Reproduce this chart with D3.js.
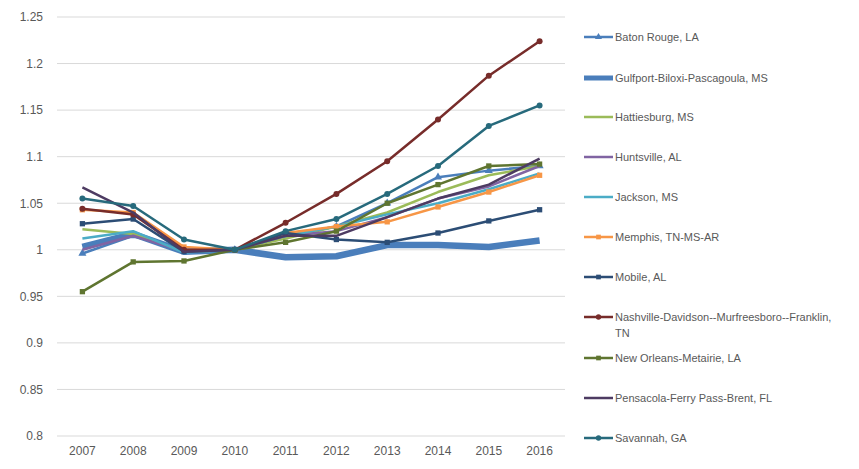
<!DOCTYPE html>
<html>
<head>
<meta charset="utf-8">
<script src="https://cdn.jsdelivr.net/npm/d3@7"></script>
<style>
  body { margin: 0; background: #fff; }
  text { font-family: "Liberation Sans", Arial, sans-serif; fill: #595959; }
</style>
</head>
<body>
<div id="chart"></div>
<script>
// data
var years = ["2007", "2008", "2009", "2010", "2011", "2012", "2013", "2014", "2015", "2016"];
var yTicks = [0.8, 0.85, 0.9, 0.95, 1, 1.05, 1.1, 1.15, 1.2, 1.25];

var names = [
  "Baton Rouge, LA",
  "Gulfport-Biloxi-Pascagoula, MS",
  "Hattiesburg, MS",
  "Huntsville, AL",
  "Jackson, MS",
  "Memphis, TN-MS-AR",
  "Mobile, AL",
  "Nashville-Davidson--Murfreesboro--Franklin, TN",
  "New Orleans-Metairie, LA",
  "Pensacola-Ferry Pass-Brent, FL",
  "Savannah, GA"
];

var batonRouge  = [0.996, 1.015, 0.998, 1, 1.015, 1.025, 1.050, 1.078, 1.085, 1.090];
var gulfport    = [1.003, 1.017, 0.998, 1, 0.992, 0.993, 1.005, 1.005, 1.003, 1.010];
var hattiesburg = [1.022, 1.017, 0.998, 1, 1.012, 1.025, 1.040, 1.062, 1.080, 1.090];
var huntsville  = [1.000, 1.015, 0.998, 1, 1.015, 1.020, 1.035, 1.055, 1.068, 1.090];
var jackson     = [1.012, 1.020, 0.997, 1, 1.015, 1.025, 1.038, 1.050, 1.065, 1.082];
var memphis     = [1.043, 1.040, 1.003, 1, 1.018, 1.025, 1.030, 1.046, 1.062, 1.080];
var mobile      = [1.028, 1.033, 0.998, 1, 1.018, 1.011, 1.008, 1.018, 1.031, 1.043];
var nashville   = [1.044, 1.038, 1.000, 1, 1.029, 1.060, 1.095, 1.140, 1.187, 1.224];
var newOrleans  = [0.955, 0.987, 0.988, 1, 1.008, 1.020, 1.050, 1.070, 1.090, 1.092];
var pensacola   = [1.067, 1.040, 0.998, 1, 1.015, 1.015, 1.035, 1.055, 1.070, 1.098];
var savannah    = [1.055, 1.047, 1.011, 1, 1.020, 1.033, 1.060, 1.090, 1.133, 1.155];

var seriesValues = [batonRouge, gulfport, hattiesburg, huntsville, jackson, memphis,
                    mobile, nashville, newOrleans, pensacola, savannah];

var colors = ["#4a7ebb", "#4a7ebb", "#9bbb59", "#8064a2", "#4bacc6", "#f79646",
              "#2c4d75", "#772c2a", "#5f7530", "#4d3b62", "#276a7c"];
var widths = [2.5, 6.5, 2.5, 2.5, 2.5, 2.5, 2.5, 2.5, 2.5, 2.5, 2.5];
var markers = ["triangle", null, null, null, null, "square", "square", "circle", "square", null, "circle"];

var series = names.map(function(n, i) {
  return {name: n, values: seriesValues[i], color: colors[i], width: widths[i], marker: markers[i]};
});

var W = 859, H = 469;
var margin = {top: 17, left: 57, right: 294, bottom: 33};
var width = W - margin.left - margin.right,
    height = H - margin.top - margin.bottom;

var svg = d3.select("#chart").append("svg")
    .attr("width", W).attr("height", H);
var g = svg.append("g")
    .attr("transform", "translate(" + margin.left + "," + margin.top + ")");

var x = d3.scaleBand().domain(years).range([0, width]);
var y = d3.scaleLinear().domain([0.8, 1.25]).range([height, 0]);

// gridlines
g.append("g").selectAll("line")
  .data(yTicks).enter().append("line")
    .attr("x1", 0).attr("x2", width)
    .attr("y1", function(d) { return y(d); })
    .attr("y2", function(d) { return y(d); })
    .attr("stroke", "#d9d9d9").attr("stroke-width", 1);

// y axis labels
var yAxis = g.append("g")
    .call(d3.axisLeft(y).tickValues(yTicks).tickSize(0).tickPadding(14)
      .tickFormat(function(d) { return String(+d.toFixed(2)); }));
yAxis.select(".domain").remove();
yAxis.selectAll("text").attr("font-size", 12).style("fill", "#595959")
    .style("font-family", "Liberation Sans, Arial, sans-serif");

// x axis labels
var xAxis = g.append("g")
    .attr("transform", "translate(0," + height + ")")
    .call(d3.axisBottom(x).tickSize(0).tickPadding(10));
xAxis.select(".domain").remove();
xAxis.selectAll("text").attr("font-size", 12).style("fill", "#595959")
    .style("font-family", "Liberation Sans, Arial, sans-serif");

var line = d3.line()
    .x(function(d, i) { return x(years[i]) + x.bandwidth() / 2; })
    .y(function(d) { return y(d); });

function markerPath(type, size) {
  var sym = type === "triangle" ? d3.symbolTriangle : type === "square" ? d3.symbolSquare : d3.symbolCircle;
  return d3.symbol().type(sym).size(size)();
}

// lines and markers
series.forEach(function(s) {
  g.append("path")
    .datum(s.values)
    .attr("fill", "none")
    .attr("stroke", s.color)
    .attr("stroke-width", s.width)
    .attr("stroke-linejoin", "round")
    .attr("d", line);
  if (s.marker) {
    g.append("g").selectAll("path")
      .data(s.values).enter().append("path")
        .attr("d", markerPath(s.marker, 28))
        .attr("transform", function(d, i) {
          return "translate(" + (x(years[i]) + x.bandwidth() / 2) + "," + y(d) + ")";
        })
        .attr("fill", s.color);
  }
});

// legend
var legendY = [37, 78, 117, 157, 197, 237, 277, 317, 358, 398, 438];
var legend = svg.append("g");
series.forEach(function(s, i) {
  var ly = legendY[i];
  legend.append("line")
    .attr("x1", 584).attr("x2", 613)
    .attr("y1", ly).attr("y2", ly)
    .attr("stroke", s.color)
    .attr("stroke-width", s.width > 5 ? 5 : 2.5);
  if (s.marker) {
    legend.append("path")
      .attr("d", markerPath(s.marker, 22))
      .attr("transform", "translate(598.5," + ly + ")")
      .attr("fill", s.color);
  }
  var t = legend.append("text")
    .attr("x", 615).attr("y", ly + 4)
    .attr("font-size", 11);
  if (s.name.indexOf("Nashville") === 0) {
    t.append("tspan").text("Nashville-Davidson--Murfreesboro--Franklin,");
    t.append("tspan").attr("x", 615).attr("dy", 16).text("TN");
  } else {
    t.text(s.name);
  }
});
</script>
</body>
</html>
